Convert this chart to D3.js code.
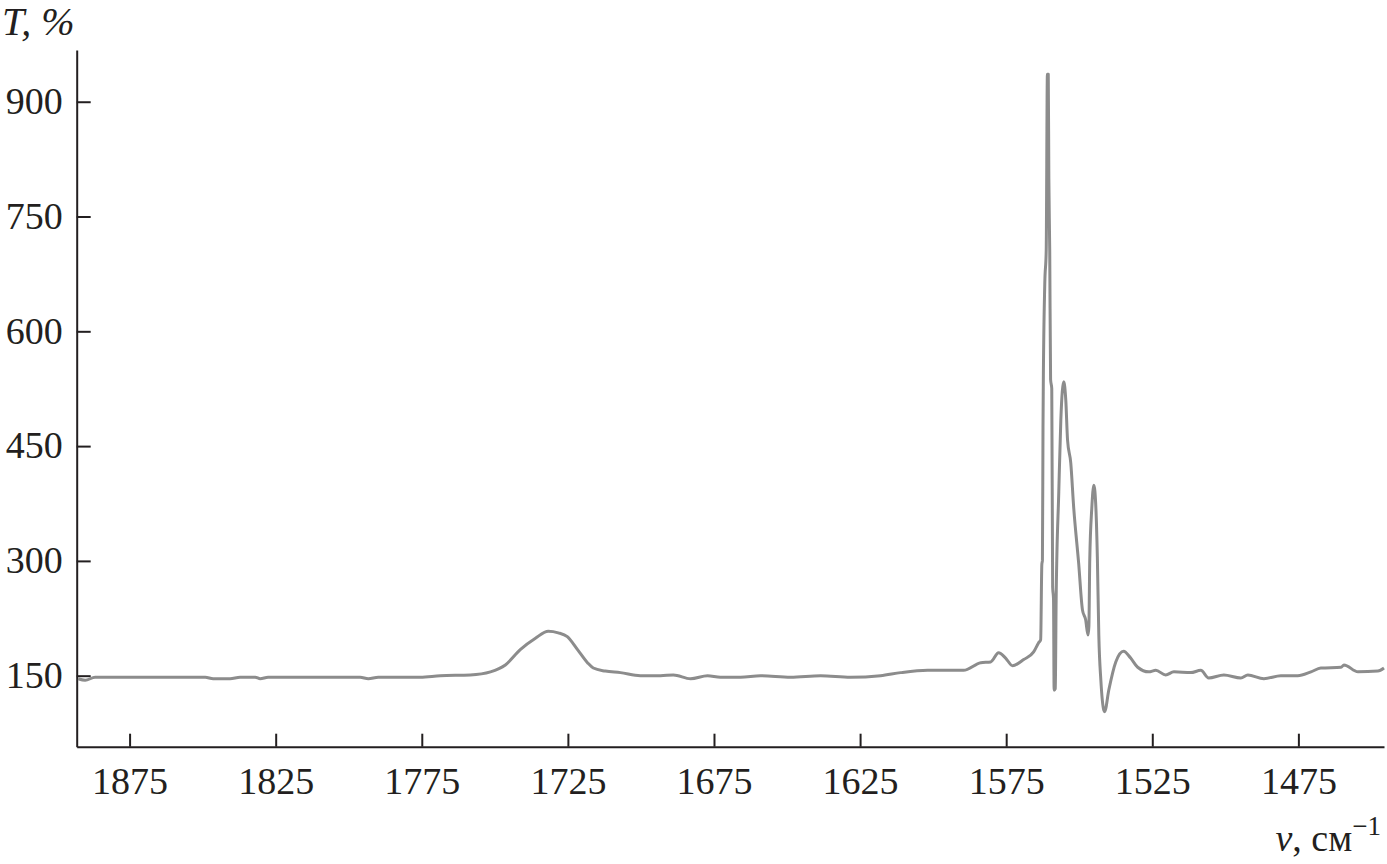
<!DOCTYPE html>
<html>
<head>
<meta charset="utf-8">
<script src="https://cdn.jsdelivr.net/npm/d3@7"></script>
<style>
  body { margin: 0; background: #fff; }
  svg { display: block; }
  .axis path, .axis line { stroke: #231f20; stroke-width: 2px; }
  .axis text { font-family: "Liberation Serif", "Times New Roman", serif; font-size: 38px; fill: #231f20; }
</style>
</head>
<body>
<script>
// wavenumber, cm^-1 (left to right)
const wavenumber = [
  1892.6, 1890.2, 1886.8, 1868.0, 1849.1, 1846.4, 1840.6, 1837.2, 1832.0, 1830.3,
  1827.6, 1816.6, 1796.1, 1793.3, 1789.9, 1775.5, 1768.7, 1758.4, 1751.5, 1746.4,
  1741.3, 1736.1, 1731.7, 1728.3, 1725.2, 1721.7, 1718.3, 1716.3, 1712.2, 1707.0,
  1700.2, 1693.3, 1688.9, 1683.0, 1677.2, 1672.8, 1665.9, 1659.1, 1648.8, 1638.5,
  1628.3, 1618.0, 1611.1, 1601.9, 1589.6, 1583.7, 1580.3, 1577.6, 1575.2, 1572.8,
  1569.0, 1565.6, 1563.9, 1563.2, 1562.8, 1562.6, 1562.4, 1562.3, 1561.8, 1561.3,
  1560.9, 1560.6, 1560.4, 1560.1, 1559.8, 1559.4, 1559.1, 1558.8, 1558.6, 1558.2,
  1557.9, 1557.0, 1556.3, 1555.3, 1554.6, 1554.0, 1552.9, 1551.9, 1550.2, 1548.9,
  1547.8, 1547.0, 1546.7, 1546.4, 1545.7, 1545.0, 1544.3, 1543.8, 1543.3, 1542.6,
  1541.6, 1541.3, 1539.9, 1537.5, 1534.8, 1532.4, 1530.0, 1526.2, 1523.8, 1520.4,
  1517.6, 1511.8, 1508.4, 1505.7, 1500.5, 1494.7, 1492.3, 1486.8, 1481.0, 1475.2,
  1470.7, 1467.3, 1460.4, 1459.4, 1454.6, 1447.8, 1445.7
];
// transmission T, %
const transmission = [
  146, 144, 148, 148, 148, 146, 146, 148, 148, 146,
  148, 148, 148, 146, 148, 148, 150, 151, 155, 164,
  184, 199, 208, 206, 201, 184, 167, 160, 156, 154,
  150, 150, 151, 146, 150, 148, 148, 150, 148, 150,
  148, 150, 154, 157, 157, 167, 168, 180, 173, 163,
  171, 181, 193, 197, 295, 301, 475, 530, 661, 706,
  936, 936, 800, 706, 537, 525, 266, 250, 131, 133,
  250, 390, 484, 534, 510, 458, 428, 370, 297, 236,
  223, 203, 214, 301, 369, 399, 369, 305, 203, 144,
  105, 103, 131, 168, 182, 173, 161, 155, 157, 151,
  155, 154, 157, 147, 151, 147, 151, 146, 150, 150,
  155, 160, 161, 164, 155, 156, 160
];
const xTicks = [1875, 1825, 1775, 1725, 1675, 1625, 1575, 1525, 1475];
const yTicks = [150, 300, 450, 600, 750, 900];

const width = 1387, height = 864;
const plotLeft = 76.7, plotRight = 1384, plotTop = 50, plotBottom = 746.7;

const svg = d3.select("body").append("svg")
  .attr("width", width)
  .attr("height", height);

const x = d3.scaleLinear().domain([1893.1, 1445.7]).range([plotLeft, plotRight]);
const y = d3.scaleLinear().domain([57.2, 967.6]).range([plotBottom, plotTop]);

const data = wavenumber.map((v, i) => ({ v: v, t: transmission[i] }));

// x axis, ticks pointing into the plot
const gx = svg.append("g")
  .attr("class", "axis")
  .attr("transform", `translate(0,${plotBottom})`)
  .call(d3.axisBottom(x).tickValues(xTicks).tickSizeInner(-13).tickSizeOuter(0).tickFormat(d3.format("d")));
gx.selectAll("text").attr("y", 47).attr("dy", null);

// y axis
const gy = svg.append("g")
  .attr("class", "axis")
  .attr("transform", `translate(${plotLeft},0)`)
  .call(d3.axisLeft(y).tickValues(yTicks).tickSizeInner(-14).tickSizeOuter(0).tickFormat(d3.format("d")));
gy.selectAll("text").attr("x", -14).attr("dy", "0.31em");

// spectrum
svg.append("path")
  .datum(data)
  .attr("fill", "none")
  .attr("stroke", "#8c8c8c")
  .attr("stroke-width", 3)
  .attr("stroke-linejoin", "round")
  .attr("d", d3.line().curve(d3.curveMonotoneX).x(d => x(d.v)).y(d => y(d.t)));

// axis titles
svg.append("text")
  .attr("x", 2)
  .attr("y", 35)
  .style("font-family", "'Liberation Serif', serif")
  .style("font-size", "40px")
  .style("font-style", "italic")
  .style("fill", "#231f20")
  .text("T, %");

const xt = svg.append("text")
  .attr("x", 1381)
  .attr("y", 851)
  .attr("text-anchor", "end")
  .style("font-family", "'Liberation Serif', serif")
  .style("font-size", "38px")
  .style("fill", "#231f20");
xt.append("tspan").style("font-style", "italic").text("ν");
xt.append("tspan").text(", см");
xt.append("tspan").attr("dy", -16).style("font-size", "27px").text("−1");
</script>
</body>
</html>
